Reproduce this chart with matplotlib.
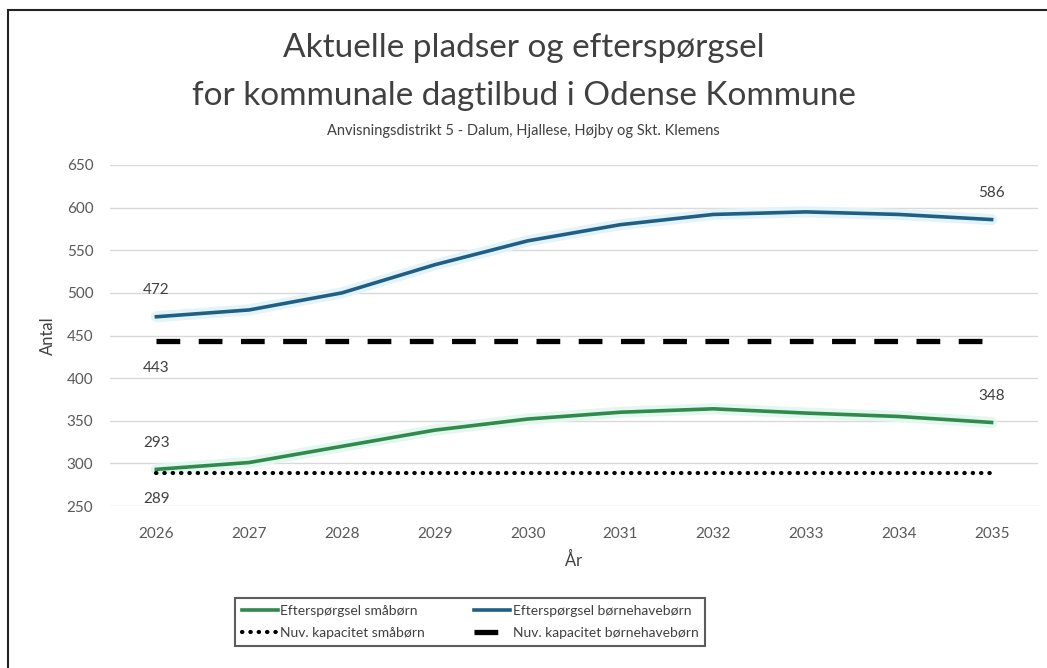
import matplotlib.pyplot as plt
from matplotlib.patches import Rectangle

plt.rcParams['font.family'] = ['Lato', 'DejaVu Sans']

years = [2026, 2027, 2028, 2029, 2030, 2031, 2032, 2033, 2034, 2035]
smaa = [293, 301, 320, 339, 352, 360, 364, 359, 355, 348]
boernehave = [472, 480, 500, 533, 561, 580, 592, 595, 592, 586]
kap_smaa = [289] * len(years)
kap_boernehave = [443] * len(years)

lbl_smaa = 'Efterspørgsel småbørn'
lbl_boern = 'Efterspørgsel børnehavebørn'
lbl_kap_smaa = 'Nuv. kapacitet småbørn'
lbl_kap_boern = 'Nuv. kapacitet børnehavebørn'

green = '#2f8a4c'
blue = '#1f5f86'
txt = '#404040'

fig = plt.figure(figsize=(10.47, 6.68), dpi=100)
fig.patches.append(Rectangle((8 / 1047, -0.1), 1.2, 1 - 10 / 668 + 0.1,
                             transform=fig.transFigure, fill=False,
                             ec='#222222', lw=1.5))

ax = fig.add_axes([110 / 1047, 1 - 506 / 668, 928 / 1047, 341 / 668])
x = list(range(len(years)))

# faint glow under the demand lines
ax.plot(x, smaa, color='#e3f6f0', lw=8, solid_capstyle='round', zorder=2)
ax.plot(x, boernehave, color='#e3f3f8', lw=8, solid_capstyle='round', zorder=2)

l1, = ax.plot(x, smaa, color=green, lw=2.6, label=lbl_smaa, zorder=3)
l2, = ax.plot(x, boernehave, color=blue, lw=2.6, label=lbl_boern, zorder=3)
l3, = ax.plot(x, kap_smaa, color='black', lw=3, linestyle=(0, (0.1, 1.9)),
              dash_capstyle='round', label=lbl_kap_smaa, zorder=3)
l4, = ax.plot(x, kap_boernehave, color='black', lw=3.8, linestyle=(0, (4.5, 3.5)),
              label=lbl_kap_boern, zorder=3)

lab = dict(ha='center', fontsize=11, color=txt)
ax.annotate(str(boernehave[0]), (x[0], boernehave[0]), xytext=(0, 14),
            textcoords='offset points', va='bottom', **lab)
ax.annotate(str(boernehave[-1]), (x[-1], boernehave[-1]), xytext=(0, 14),
            textcoords='offset points', va='bottom', **lab)
ax.annotate(str(kap_boernehave[0]), (x[0], kap_boernehave[0]), xytext=(0, -14),
            textcoords='offset points', va='top', **lab)
ax.annotate(str(smaa[0]), (x[0], smaa[0]), xytext=(0, 14),
            textcoords='offset points', va='bottom', **lab)
ax.annotate(str(smaa[-1]), (x[-1], smaa[-1]), xytext=(0, 14),
            textcoords='offset points', va='bottom', **lab)
ax.annotate(str(kap_smaa[0]), (x[0], kap_smaa[0]), xytext=(0, -14),
            textcoords='offset points', va='top', **lab)

ax.set_xlim(-0.5, len(years) - 0.5)
ax.set_ylim(250, 650)
ax.set_yticks(range(250, 651, 50))
ax.set_xticks(x)
ax.set_xticklabels([str(y) for y in years])
ax.tick_params(length=0, labelsize=11, labelcolor='#595959', pad=15)
ax.tick_params(axis='y', pad=12)
ax.grid(axis='y', color='#d9d9d9', lw=1)
ax.set_axisbelow(True)
for s in ax.spines.values():
    s.set_visible(False)

ax.set_ylabel('Antal', fontsize=12, color=txt, labelpad=8)
ax.set_xlabel('År', fontsize=12, color=txt, labelpad=8)

fig.text(0.5, 1 - 48 / 668, 'Aktuelle pladser og efterspørgsel',
         ha='center', va='center', fontsize=24, color=txt)
fig.text(0.5, 1 - 96 / 668, 'for kommunale dagtilbud i Odense Kommune',
         ha='center', va='center', fontsize=24, color=txt)
fig.text(0.5, 1 - 131 / 668, 'Anvisningsdistrikt 5 - Dalum, Hjallese, Højby og Skt. Klemens',
         ha='center', va='center', fontsize=10.5, color=txt)

leg = fig.legend(handles=[l1, l3, l2, l4], loc='center',
                 bbox_to_anchor=(470 / 1047, 1 - 622 / 668),
                 ncol=2, frameon=True, fancybox=False, fontsize=10,
                 handlelength=2.6, handletextpad=0.2, columnspacing=3.5,
                 borderpad=0.5, labelspacing=0.7)
leg.get_frame().set_edgecolor('#333333')
leg.get_frame().set_linewidth(1.5)
for t in leg.get_texts():
    t.set_color(txt)

fig.savefig('out.png', dpi=100)
